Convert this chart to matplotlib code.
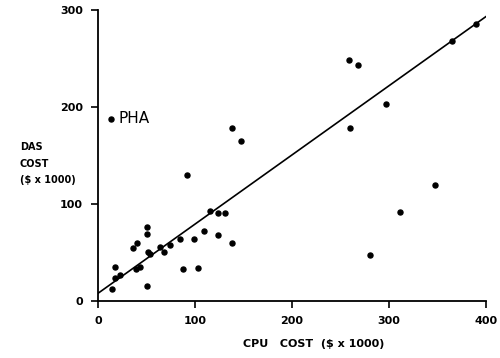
import numpy as np
import matplotlib.pyplot as plt

# cost per system, $ x 1000
cpu_cost = [13, 14.7, 17.5, 17.9, 23, 36.4, 40.5, 38.9, 43.6, 50.2, 50.8, 51.9, 54,
            50.8, 63.6, 68, 74.6, 84.5, 87.6, 92, 99, 102.8, 109.6, 115.5, 123.4,
            130.6, 123.7, 138.5, 138.5, 147.5, 258.4, 268, 260, 297, 280, 311.6,
            347, 365, 390]
das_cost = [188, 12, 35.4, 23.7, 26.5, 54.3, 59.5, 33, 34.7, 76.3, 69, 50.2, 48.5,
            15.1, 55.7, 50.8, 57.7, 63.9, 33.3, 129.6, 63.9, 34.3, 72, 93, 91,
            90.4, 68.4, 59.5, 178.4, 165, 248, 243.6, 178.7, 202.8, 47, 91.4,
            120, 268, 286]

# fitted line end points
fit_x = [0, 401]
fit_y = [8, 294]

fig = plt.figure(figsize=(5, 3.58), dpi=100)
ax = fig.add_axes([0.196, 0.159, 0.776, 0.813])

ax.scatter(cpu_cost, das_cost, s=13, color='black', zorder=3)
ax.plot(fit_x, fit_y, color='black', lw=1.2)

ax.set_xlim(0, 400)
ax.set_ylim(0, 300)
ax.set_xticks([0, 100, 200, 300, 400])
ax.set_yticks([0, 100, 200, 300])
ax.spines['top'].set_visible(False)
ax.spines['right'].set_visible(False)
ax.spines['left'].set_linewidth(1.3)
ax.spines['bottom'].set_linewidth(1.3)
ax.tick_params(direction='out', length=5, width=1.2, labelsize=8, pad=6)
for lab in ax.get_xticklabels() + ax.get_yticklabels():
    lab.set_fontweight('bold')

ax.annotate('PHA', (cpu_cost[0], das_cost[0]), xytext=(6, 0),
            textcoords='offset points', va='center', fontsize=11)

fig.text(0.04, 0.543, 'DAS\nCOST\n($ x 1000)', ha='left', va='center',
         fontsize=7, fontweight='bold', linespacing=1.8)
fig.text(0.486, 0.04, 'CPU   COST  ($ x 1000)', ha='left', va='center',
         fontsize=8, fontweight='bold')

fig.savefig('out.png', dpi=100)
